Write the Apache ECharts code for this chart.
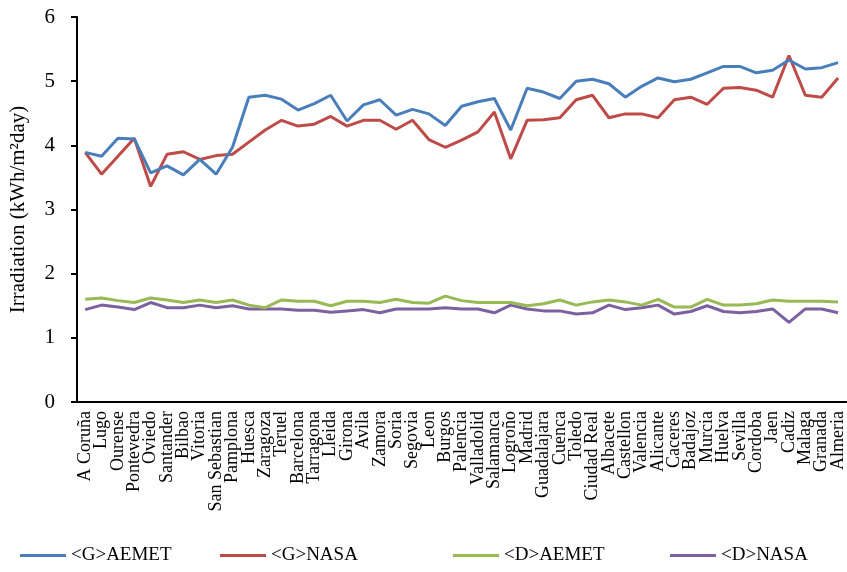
<!DOCTYPE html>
<html>
<head>
<meta charset="utf-8">
<script src="https://cdn.jsdelivr.net/npm/echarts@6/dist/echarts.min.js"></script>
<style>
  html, body { margin: 0; padding: 0; background: #fff; }
  #chart { width: 847px; height: 572px; }
</style>
</head>
<body>
<div id="chart"></div>
<script>
// Spanish provincial capitals
const cities = [
  'A Coruña', 'Lugo', 'Ourense', 'Pontevedra', 'Oviedo', 'Santander', 'Bilbao', 'Vitoria',
  'San Sebastian', 'Pamplona', 'Huesca', 'Zaragoza', 'Teruel', 'Barcelona', 'Tarragona', 'Lleida',
  'Girona', 'Avila', 'Zamora', 'Soria', 'Segovia', 'Leon', 'Burgos', 'Palencia',
  'Valladolid', 'Salamanca', 'Logroño', 'Madrid', 'Guadalajara', 'Cuenca', 'Toledo', 'Ciudad Real',
  'Albacete', 'Castellon', 'Valencia', 'Alicante', 'Caceres', 'Badajoz', 'Murcia', 'Huelva',
  'Sevilla', 'Cordoba', 'Jaen', 'Cadiz', 'Malaga', 'Granada', 'Almeria'
];

// Global irradiation, AEMET (kWh/m²day)
const gAemet = [
  3.89, 3.83, 4.11, 4.10, 3.57, 3.68, 3.54, 3.78, 3.55, 3.97,
  4.75, 4.78, 4.72, 4.55, 4.65, 4.78, 4.38, 4.63, 4.71, 4.47,
  4.56, 4.49, 4.31, 4.61, 4.68, 4.73, 4.24, 4.89, 4.83, 4.73,
  5.00, 5.03, 4.96, 4.75, 4.92, 5.05, 4.99, 5.03, 5.13, 5.23,
  5.23, 5.13, 5.17, 5.33, 5.19, 5.21, 5.29
];

// Global irradiation, NASA
const gNasa = [
  3.89, 3.55, 3.83, 4.11, 3.36, 3.86, 3.90, 3.78, 3.84, 3.86,
  4.05, 4.24, 4.39, 4.30, 4.33, 4.45, 4.30, 4.39, 4.39, 4.25,
  4.39, 4.09, 3.97, 4.08, 4.21, 4.52, 3.79, 4.39, 4.40, 4.43,
  4.71, 4.78, 4.43, 4.49, 4.49, 4.43, 4.71, 4.75, 4.64, 4.89,
  4.90, 4.86, 4.75, 5.40, 4.78, 4.75, 5.05
];

// Diffuse irradiation, AEMET
const dAemet = [
  1.60, 1.62, 1.58, 1.55, 1.62, 1.59, 1.55, 1.59, 1.55, 1.59,
  1.51, 1.47, 1.59, 1.57, 1.57, 1.50, 1.57, 1.57, 1.55, 1.60,
  1.55, 1.54, 1.65, 1.58, 1.55, 1.55, 1.55, 1.50, 1.53, 1.59,
  1.51, 1.56, 1.59, 1.56, 1.51, 1.60, 1.48, 1.48, 1.60, 1.51,
  1.51, 1.53, 1.59, 1.57, 1.57, 1.57, 1.56
];

// Diffuse irradiation, NASA
const dNasa = [
  1.44, 1.51, 1.48, 1.44, 1.55, 1.47, 1.47, 1.51, 1.47, 1.50,
  1.45, 1.45, 1.45, 1.43, 1.43, 1.40, 1.42, 1.44, 1.39, 1.45,
  1.45, 1.45, 1.47, 1.45, 1.45, 1.39, 1.51, 1.45, 1.42, 1.42,
  1.37, 1.39, 1.51, 1.44, 1.47, 1.51, 1.37, 1.41, 1.50, 1.41,
  1.39, 1.41, 1.45, 1.24, 1.45, 1.45, 1.39
];

const seriesNames = ['<G>AEMET', '<G>NASA', '<D>AEMET', '<D>NASA'];
const seriesColors = ['#4A7EBB', '#BE4B48', '#98B954', '#7D60A0'];
const seriesValues = [gAemet, gNasa, dAemet, dNasa];

const serif = '"Liberation Serif", "Times New Roman", serif';

// one legend entry per series, laid out along the bottom
const legendLefts = [15, 215, 448, 665];
const legends = seriesNames.map((name, i) => ({
  bottom: 2,
  left: legendLefts[i],
  icon: 'rect',
  itemWidth: 46,
  itemHeight: 3,
  itemGap: 4,
  textStyle: { fontFamily: serif, fontSize: 19, color: '#000' },
  data: [name]
}));

const chart = echarts.init(document.getElementById('chart'));
chart.setOption({
  animation: false,
  grid: { left: 77, right: -5, top: 17, bottom: 170 },
  legend: legends,
  xAxis: {
    type: 'category',
    data: cities,
    boundaryGap: true,
    axisLine: { lineStyle: { color: '#000', width: 2 } },
    axisTick: { show: false },
    axisLabel: {
      interval: 0,
      rotate: 90,
      margin: 9,
      fontFamily: serif,
      fontSize: 18,
      color: '#000'
    }
  },
  yAxis: {
    type: 'value',
    min: 0,
    max: 6,
    interval: 1,
    name: 'Irradiation (kWh/m²day)',
    nameLocation: 'middle',
    nameGap: 48,
    nameTextStyle: { fontFamily: serif, fontSize: 21, color: '#000' },
    axisLine: { show: true, lineStyle: { color: '#000', width: 2 } },
    axisTick: { show: true, inside: false, length: 6, lineStyle: { color: '#000', width: 2 } },
    axisLabel: { fontFamily: serif, fontSize: 21, color: '#000', margin: 22 },
    splitLine: { show: false }
  },
  series: seriesNames.map((name, i) => ({
    name: name,
    type: 'line',
    data: seriesValues[i],
    symbol: 'none',
    lineStyle: { color: seriesColors[i], width: 3 },
    itemStyle: { color: seriesColors[i] },
    z: 10 - i
  }))
});
</script>
</body>
</html>
